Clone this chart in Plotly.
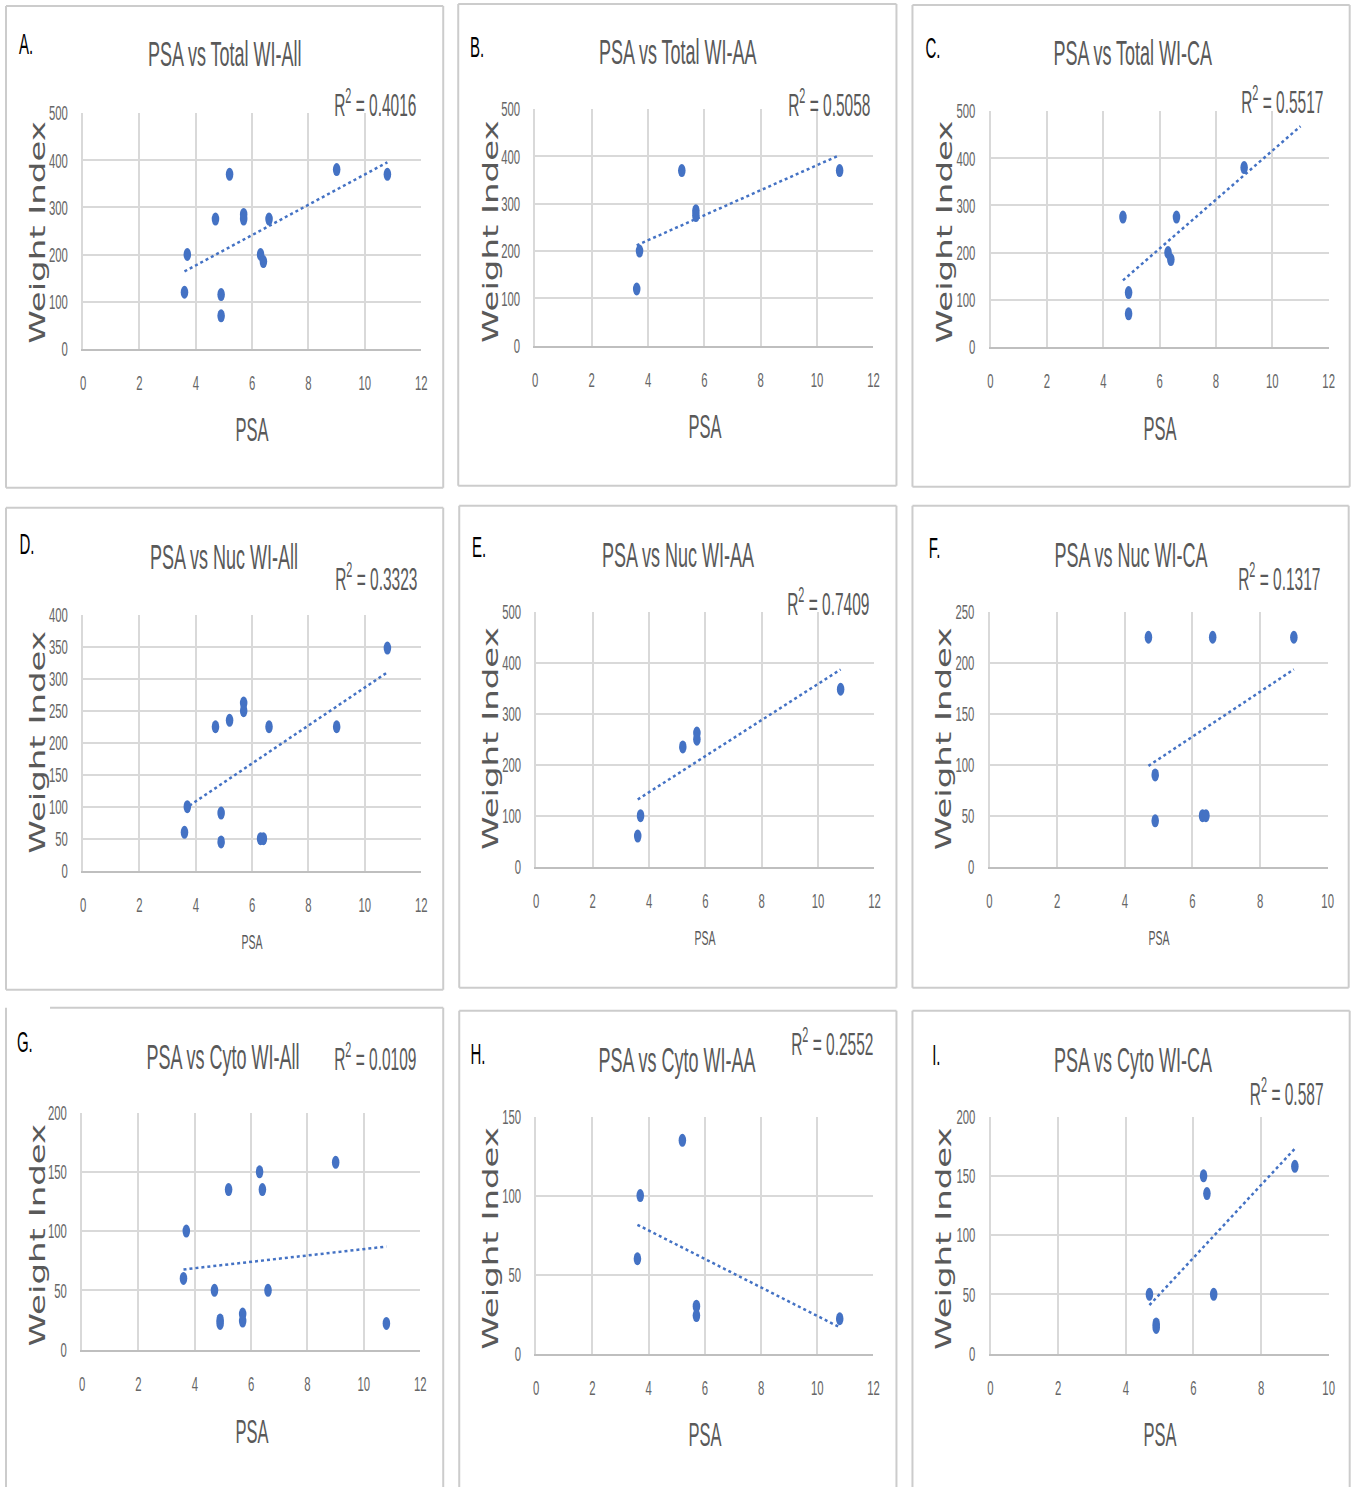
import json
import math
import numpy as np
import plotly.graph_objects as go

# page geometry and the figure-to-page scale / offset of the rendered view
PAGE_W, PAGE_H = 1351, 1487
AX, CX = 0.9863, 6.0
AY, CY = 0.985, 12.0
W = math.ceil((PAGE_W - CX) / AX)
H = math.ceil((PAGE_H - CY) / AY)

# ---- data -------------------------------------------------------------
# PSA per cohort (AA = African American, CA = Caucasian American)
psa_aa = [3.6, 3.7, 5.2, 5.7, 5.7, 10.8]
psa_ca = [4.7, 4.9, 4.9, 6.3, 6.4, 6.6, 9.0]

# Weight index per compartment
total_wi_aa = [120, 200, 370, 285, 275, 370]
total_wi_ca = [275, 115, 70, 200, 185, 275, 380]
nuc_wi_aa = [60, 100, 235, 262, 250, 348]
nuc_wi_ca = [225, 90, 45, 50, 50, 225, 225]
cyto_wi_aa = [60, 100, 135, 30, 24, 22]
cyto_wi_ca = [50, 25, 22, 150, 135, 50, 158]

panel_letters = ["A.", "B.", "C.", "D.", "E.", "F.", "G.", "H.", "I."]
panel_titles = [
    "PSA vs Total WI-All", "PSA vs Total WI-AA", "PSA vs Total WI-CA",
    "PSA vs Nuc WI-All", "PSA vs Nuc WI-AA", "PSA vs Nuc WI-CA",
    "PSA vs Cyto WI-All", "PSA vs Cyto WI-AA", "PSA vs Cyto WI-CA",
]
r2_values = ["0.4016", "0.5058", "0.5517", "0.3323", "0.7409", "0.1317",
             "0.0109", "0.2552", "0.587"]
x_title = "PSA"
y_title = "Weight Index"

xs = [psa_aa + psa_ca, psa_aa, psa_ca] * 3
ys = [total_wi_aa + total_wi_ca, total_wi_aa, total_wi_ca,
      nuc_wi_aa + nuc_wi_ca, nuc_wi_aa, nuc_wi_ca,
      cyto_wi_aa + cyto_wi_ca, cyto_wi_aa, cyto_wi_ca]

# axis extents: (x max, x step, y max, y step)
axis_specs = [(12, 2, 500, 100), (12, 2, 500, 100), (12, 2, 500, 100),
              (12, 2, 400, 50), (12, 2, 500, 100), (10, 2, 250, 50),
              (12, 2, 200, 50), (12, 2, 150, 50), (10, 2, 200, 50)]
# trendline forward forecast (PSA units)
forecast = [0, 0, 2, 0, 0, 0, 0, 0, 0]

# ---- layout (page pixel geometry, all text centred on the given point) ---
# frame = (left, top, right, bottom, x where the top edge starts)
geo = [
    dict(frame=(6, 6, 443, 488, 6), plot=(83, 113, 421, 349), letter=(26, 44), title=(224, 54),
         r2=(375, 103), xt=(252, 430, 33), yt=(37, 233)),
    dict(frame=(458, 4, 896, 486, 458), plot=(535, 109, 873, 346), letter=(477, 47), title=(677, 52),
         r2=(829, 103), xt=(705, 427, 33), yt=(490, 232)),
    dict(frame=(912, 5, 1349, 487, 912), plot=(990, 111, 1328, 347), letter=(933, 48), title=(1132, 53),
         r2=(1282, 100), xt=(1159, 429, 33), yt=(944, 232)),
    dict(frame=(6, 508, 443, 990, 6), plot=(83, 615, 421, 871), letter=(27, 544), title=(224, 557),
         r2=(376, 577), xt=(252, 942, 21), yt=(37, 743)),
    dict(frame=(459, 506, 896, 988, 459), plot=(536, 612, 874, 867), letter=(479, 547), title=(678, 555),
         r2=(828, 602), xt=(705, 938, 21), yt=(490, 739)),
    dict(frame=(912, 506, 1348, 988, 912), plot=(989, 612, 1327, 867), letter=(934, 548), title=(1130, 555),
         r2=(1279, 577), xt=(1158, 938, 21), yt=(943, 739)),
    dict(frame=(6, 1008, 443, 1530, 50), plot=(82, 1113, 420, 1350), letter=(25, 1042), title=(223, 1057),
         r2=(375, 1057), xt=(252, 1432, 33), yt=(37, 1236)),
    dict(frame=(459, 1011, 896, 1530, 459), plot=(536, 1117, 873, 1354), letter=(478, 1054), title=(677, 1060),
         r2=(832, 1042), xt=(705, 1435, 33), yt=(490, 1239)),
    dict(frame=(912, 1011, 1349, 1530, 912), plot=(990, 1117, 1328, 1354), letter=(936, 1055), title=(1132, 1060),
         r2=(1286, 1092), xt=(1159, 1435, 33), yt=(943, 1239)),
]

SANS = "Liberation Sans, Arial, sans-serif"
WIDE = "DejaVu Sans, Verdana, sans-serif"
GREY_TXT = "#595959"
TICK_TXT = "#666666"
FRAME = "#CCCCCC"
BLUE = "#4472C4"
NARROW_X = 0.5       # horizontal squeeze for the condensed chart lettering
TICK_X = 0.54
MARKER_X = 0.58
YTITLE_Y = 0.62


def px(x):
    return ((x - CX) / AX) / W


def py(y):
    return 1 - ((y - CY) / AY) / H


fig = go.Figure()
annotations = []
squeeze = []   # per-annotation (sx, sy) applied after rendering
shapes = []
layout = {}


def add_text(text, pos, size, family, color, sx=1.0, sy=1.0, angle=0):
    annotations.append(dict(
        text=text, x=px(pos[0]), y=py(pos[1]), textangle=angle,
        xref="paper", yref="paper", xanchor="center", yanchor="middle",
        showarrow=False, font=dict(family=family, size=size, color=color)))
    squeeze.append([sx, sy])


def add_line(x0, y0, x1, y1):
    shapes.append(dict(type="line", xref="paper", yref="paper",
                       x0=px(x0), x1=px(x1), y0=py(y0), y1=py(y1),
                       line=dict(color=FRAME, width=2), layer="below"))


for i in range(9):
    g = geo[i]
    k = "" if i == 0 else str(i + 1)
    xmax, xstep, ymax, ystep = axis_specs[i]
    l, t, r, b = g["plot"]

    layout["xaxis" + k] = dict(
        domain=[px(l), px(r)], range=[0, xmax], dtick=xstep, tick0=0,
        showgrid=True, gridcolor="#D9D9D9", gridwidth=2,
        zeroline=False, showline=True, linecolor="#BFBFBF", linewidth=2,
        ticks="", ticklabelstandoff=14, anchor="y" + k,
        tickfont=dict(family=SANS, size=21, color=TICK_TXT),
        fixedrange=True,
    )
    layout["yaxis" + k] = dict(
        domain=[py(b), py(t)], range=[0, ymax], dtick=ystep, tick0=0,
        showgrid=True, gridcolor="#D9D9D9", gridwidth=2,
        zeroline=False, showline=True, linecolor="#D9D9D9", linewidth=2,
        ticks="", ticklabelstandoff=9, anchor="x" + k,
        tickfont=dict(family=SANS, size=21, color=TICK_TXT),
        fixedrange=True,
    )

    x = np.array(xs[i], dtype=float)
    y = np.array(ys[i], dtype=float)

    # linear least-squares trendline
    slope, intercept = np.polyfit(x, y, 1)
    tx = np.array([x.min(), x.max() + forecast[i]])
    fig.add_trace(go.Scatter(
        x=tx, y=slope * tx + intercept, mode="lines",
        line=dict(color=BLUE, width=2.5, dash="dot"),
        xaxis="x" + k, yaxis="y" + k, showlegend=False, hoverinfo="skip",
    ))
    fig.add_trace(go.Scatter(
        x=x, y=y, mode="markers",
        marker=dict(color=BLUE, size=13, line=dict(width=0)),
        xaxis="x" + k, yaxis="y" + k, showlegend=False,
    ))

    # panel frame
    fl, ft, fr, fb, ftop = g["frame"]
    add_line(ftop, ft, fr, ft)
    add_line(fl, ft, fl, fb)
    add_line(fr, ft, fr, fb)
    add_line(fl, fb, fr, fb)

    add_text(panel_letters[i], g["letter"], 30, SANS, "#000000", NARROW_X)
    add_text(panel_titles[i], g["title"], 36, SANS, GREY_TXT, NARROW_X)
    add_text("R<sup>2</sup> = " + r2_values[i], g["r2"], 31, SANS, GREY_TXT, NARROW_X)
    add_text(x_title, g["xt"][:2], g["xt"][2], SANS, GREY_TXT, NARROW_X)
    add_text(y_title, g["yt"], 34, WIDE, GREY_TXT, 1.0, YTITLE_Y, angle=-90)

fig.update_layout(
    width=W, height=H, autosize=False,
    margin=dict(l=0, r=0, t=0, b=0),
    paper_bgcolor="white", plot_bgcolor="white",
    annotations=annotations, shapes=shapes,
    showlegend=False,
    **layout,
)

# condensed lettering / oval markers, applied to the rendered SVG
post_js = """
var gd = document.getElementById('{plot_id}');
var ANN = __ANN__;
var TICK = __TICK__;
var MARK = __MARK__;
function squeezeEl(el, sx, sy, anchor) {
  var b = el.getBBox();
  var cx = anchor === 'end' ? b.x + b.width : b.x + b.width / 2;
  var cy = b.y + b.height / 2;
  var pre = el.getAttribute('transform') || '';
  el.setAttribute('transform', pre + ' translate(' + cx + ',' + cy + ') scale(' + sx + ',' + sy +
                  ') translate(' + (-cx) + ',' + (-cy) + ')');
}
gd.querySelectorAll('g.annotation').forEach(function (g) {
  var i = +g.getAttribute('data-index');
  var t = g.querySelector('text');
  if (t && ANN[i]) squeezeEl(t, ANN[i][0], ANN[i][1], 'middle');
});
gd.querySelectorAll('.xaxislayer-above text').forEach(function (t) { squeezeEl(t, TICK, 1, 'middle'); });
gd.querySelectorAll('.yaxislayer-above text').forEach(function (t) { squeezeEl(t, TICK, 1, 'end'); });
gd.querySelectorAll('g.points path.point').forEach(function (p) {
  p.setAttribute('transform', (p.getAttribute('transform') || '') + ' scale(' + MARK + ',1)');
});
"""
post_js = (post_js.replace("__ANN__", json.dumps(squeeze))
           .replace("__TICK__", str(TICK_X))
           .replace("__MARK__", str(MARKER_X)))

fig.write_html("out.html", config={"displayModeBar": False, "responsive": False},
               post_script=post_js)
